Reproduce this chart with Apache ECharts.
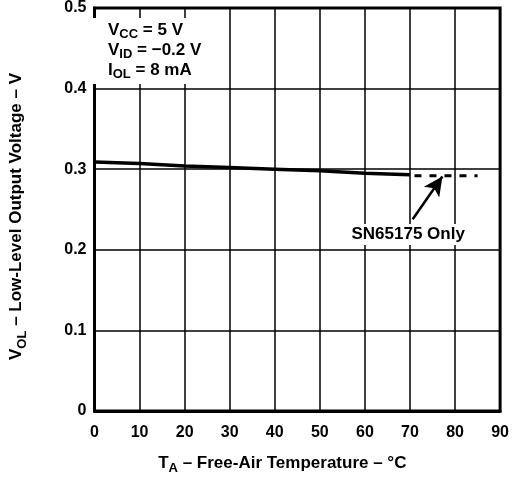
<!DOCTYPE html>
<html><head><meta charset="utf-8">
<script src="https://cdn.jsdelivr.net/npm/echarts@6/dist/echarts.min.js"></script>
<style>html,body{margin:0;padding:0;background:#fff}#c{width:512px;height:480px}</style>
</head><body><div id="c"></div>
<script>
const temps = [0, 10, 20, 30, 40, 50, 60, 70];
const vol = [0.309, 0.307, 0.304, 0.302, 0.300, 0.298, 0.295, 0.293];
const tempsDashed = [71, 85];
const volDashed = [0.292, 0.292];
const arrowFrom = [70.6, 0.238];
const arrowTo = [77.2, 0.291];
const noteLabel = 'SN65175 Only';
const noteAt = [69.6, 0.219];
const xTicks = [0, 10, 20, 30, 40, 50, 60, 70, 80, 90];
const yTicks = [0, 0.1, 0.2, 0.3, 0.4, 0.5];

const F = '"Liberation Sans", Arial, sans-serif';
const chart = echarts.init(document.getElementById('c'));
const zip = (a, b) => a.map((v, i) => [v, b[i]]);
const richTitle = {
  b: {fontFamily: F, fontWeight: 'bold', fontSize: 17, color: '#000', lineHeight: 24, verticalAlign: 'middle'},
  s: {fontFamily: F, fontWeight: 'bold', fontSize: 13, color: '#000', lineHeight: 24, verticalAlign: 'bottom'}
};
chart.setOption({
  animation: false,
  backgroundColor: '#fff',
  grid: {left: 90, right: 11, top: 7, bottom: 61, show: true, borderColor: '#000', borderWidth: 3, backgroundColor: 'transparent'},
  xAxis: {
    type: 'value', min: xTicks[0], max: xTicks[xTicks.length - 1], interval: 10,
    axisLine: {show: true, lineStyle: {color: '#000', width: 3}},
    axisTick: {show: false},
    splitLine: {show: true, lineStyle: {color: '#000', width: 1.5}},
    axisLabel: {color: '#000', fontFamily: F, fontWeight: 'bold', fontSize: 16, margin: 14},
    name: '{b|T}{s|A}{b| – Free-Air Temperature – °C}',
    nameLocation: 'middle', nameGap: 40,
    nameTextStyle: {rich: richTitle, padding: [0, 30, 0, 0]}
  },
  yAxis: {
    type: 'value', min: yTicks[0], max: yTicks[yTicks.length - 1], interval: 0.1,
    axisLine: {show: true, lineStyle: {color: '#000', width: 3}},
    axisTick: {show: false},
    splitLine: {show: true, lineStyle: {color: '#000', width: 1.5}},
    axisLabel: {color: '#000', fontFamily: F, fontWeight: 'bold', fontSize: 16, margin: 8},
    name: '{b|V}{s|OL}{b| – Low-Level Output Voltage – V}',
    nameLocation: 'middle', nameGap: 66,
    nameTextStyle: {rich: richTitle, padding: [0, 14, 0, 0]}
  },
  graphic: [
    {type: 'rect', z: 50, shape: {x: 93, y: 18, width: 112, height: 66}, style: {fill: '#fff'}},
    {type: 'text', z: 100, left: 108, top: 22, style: {
      text: '{b|V}{s|CC}{b| = 5 V}\n{b|V}{s|ID}{b| = −0.2 V}\n{b|I}{s|OL}{b| = 8 mA}',
      rich: {
        b: {fontFamily: F, fontWeight: 'bold', fontSize: 17, fill: '#000', lineHeight: 20, verticalAlign: 'middle'},
        s: {fontFamily: F, fontWeight: 'bold', fontSize: 13, fill: '#000', lineHeight: 20, verticalAlign: 'bottom'}
      }
    }}
  ],
  series: [
    {type: 'line', data: zip(temps, vol), symbol: 'none', z: 10,
     lineStyle: {color: '#000', width: 3.5}},
    {type: 'line', data: zip(tempsDashed, volDashed), symbol: 'none', z: 10,
     lineStyle: {color: '#000', width: 3, type: [7, 8]},
     markLine: {silent: true, symbol: ['none', 'arrow'], symbolSize: [14, 19],
       lineStyle: {color: '#000', width: 2.5, type: 'solid'}, label: {show: false},
       data: [[{coord: arrowFrom}, {coord: arrowTo}]]},
     markPoint: {silent: true, symbol: 'circle', symbolSize: 0,
       data: [{coord: noteAt, value: noteLabel}],
       label: {show: true, formatter: noteLabel, color: '#000', fontFamily: F, fontWeight: 'bold',
         fontSize: 17, backgroundColor: '#fff', padding: [2, 3]}}}
  ]
});
</script></body></html>
